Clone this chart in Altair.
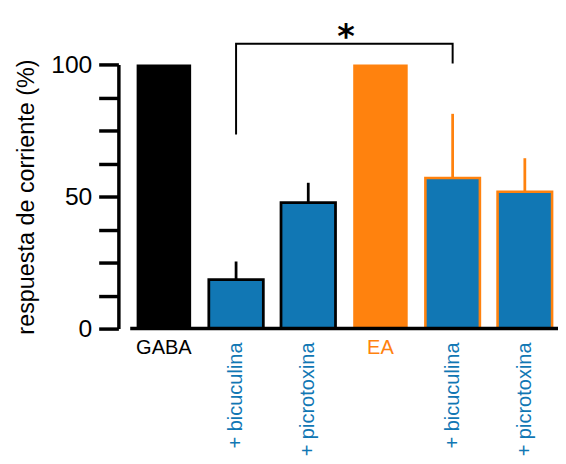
import altair as alt
import pandas as pd

# ---- data ----
cats = ["GABA", "GABA_bic", "GABA_pic", "EA", "EA_bic", "EA_pic"]
labels = ["GABA", "+ bicuculina", "+ picrotoxina", "EA", "+ bicuculina", "+ picrotoxina"]
values = [100, 18.5, 47.7, 100, 57.0, 51.8]
errors = [0, 6.9, 7.5, 0, 24.3, 12.7]
fill_colors = ["#000000", "#1177b4", "#1177b4", "#ff820e", "#1177b4", "#1177b4"]
edge_colors = ["#000000", "#000000", "#000000", "#ff820e", "#ff820e", "#ff820e"]
edge_widths = [0, 2.8, 2.8, 0, 2.6, 2.6]
label_colors = ["#000000", "#1177b4", "#1177b4", "#ff820e", "#1177b4", "#1177b4"]
rotated = [False, True, True, False, True, True]

y_ticks = [0, 12.5, 25, 37.5, 50, 62.5, 75, 87.5, 100]

# significance bracket between GABA+bicuculina and EA+bicuculina
br_cats = ["GABA_bic", "GABA_bic", "EA_bic", "EA_bic"]
br_y = [73.5, 107.8, 107.8, 100.4]
star_cat = "EA"
star_y = 107.8

FONT = "Liberation Sans"

df = pd.DataFrame({
    "cat": cats, "label": labels, "value": values,
    "top": [v + e for v, e in zip(values, errors)],
    "fill": fill_colors, "edge": edge_colors, "ew": edge_widths,
    "lcolor": label_colors,
})
df_err = df[df["top"] > df["value"]].reset_index(drop=True)
df_h = df[[not r for r in rotated]].reset_index(drop=True)
df_v = df[rotated].reset_index(drop=True)

xscale = alt.Scale(domain=cats, range=[18.5, 440], paddingInner=0.245, paddingOuter=0)
yscale = alt.Scale(domain=[0, 100], nice=False)


def X(field):
    return alt.X(field, scale=xscale, axis=None)


bars = alt.Chart(df).mark_bar().encode(
    x=X("cat:N"),
    y=alt.Y("value:Q", scale=yscale,
            axis=alt.Axis(values=y_ticks, tickCount=20,
                          labelExpr="datum.value % 50 == 0 ? datum.label : ''",
                          title="respuesta de corriente (%)")),
    fill=alt.Fill("fill:N", scale=None),
    stroke=alt.Stroke("edge:N", scale=None),
    strokeWidth=alt.StrokeWidth("ew:Q", scale=None),
)

errbars = alt.Chart(df_err).mark_rule(strokeWidth=2.8).encode(
    x=X("cat:N"), y="value:Q", y2="top:Q",
    color=alt.Color("edge:N", scale=None),
)

# x axis baseline
xline = alt.Chart(pd.DataFrame({"v": [0]})).mark_rule(color="black", strokeWidth=3.5).encode(
    x=alt.value(12), x2=alt.value(446), y="v:Q"
)

# bracket as a polyline
br_df = pd.DataFrame({"c": br_cats, "y": br_y, "o": list(range(len(br_cats)))})
bracket = alt.Chart(br_df).mark_line(color="black", strokeWidth=2).encode(
    x=X("c:N"), y="y:Q", order="o:Q",
)

star = alt.Chart(pd.DataFrame({"c": [star_cat], "t": ["*"], "y": [star_y]})).mark_text(
    font="DejaVu Sans", fontSize=34, fontWeight="bold", baseline="alphabetic", align="center",
    dy=4, dx=-35, color="black"
).encode(x=X("c:N"), y="y:Q", text="t:N")

lab_h = alt.Chart(df_h).mark_text(
    font=FONT, fontSize=20.3, baseline="alphabetic", align="center"
).encode(x=X("cat:N"), y=alt.value(294), text="label:N",
         color=alt.Color("lcolor:N", scale=None))

lab_v = alt.Chart(df_v).mark_text(
    font=FONT, fontSize=20.3, baseline="middle", align="right", angle=270
).encode(x=X("cat:N"), y=alt.value(282), text="label:N",
         color=alt.Color("lcolor:N", scale=None))

chart = alt.layer(bars, errbars, xline, bracket, star, lab_h, lab_v).properties(
    width=446, height=268,
    autosize=alt.AutoSizeParams(type="none"),
    padding={"left": 112, "top": 54, "right": 0, "bottom": 126},
).configure_view(stroke=None).configure_axis(
    domainColor="black", domainWidth=3.5, tickColor="black", tickWidth=3.5, tickSize=20,
    labelFont=FONT, labelFontSize=25, labelColor="black", labelPadding=7,
    grid=False, titleFont=FONT, titleFontSize=23.7, titleFontWeight="normal",
    titleColor="black", titlePadding=12,
)

chart.save("out.html", embed_options={"renderer": "svg", "actions": False})
